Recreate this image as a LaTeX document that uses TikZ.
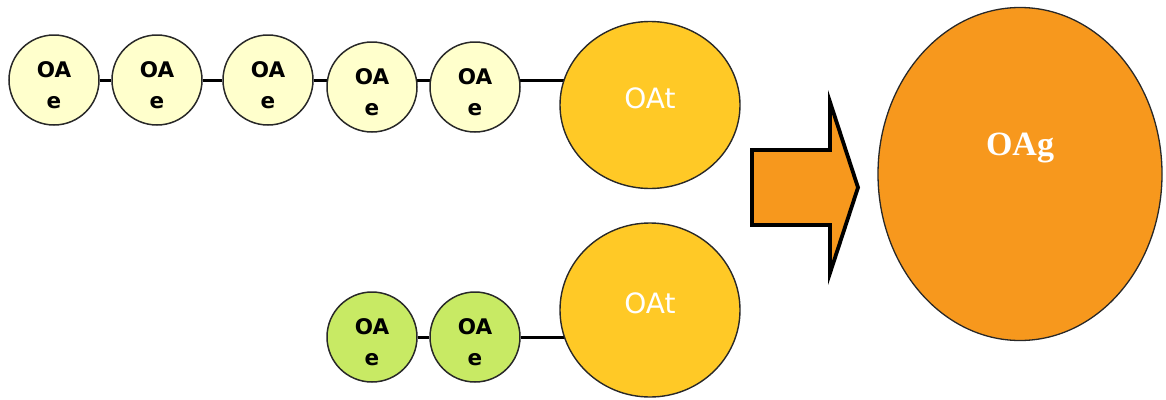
\documentclass[tikz,border=0pt]{standalone}
\usepackage{fontspec}
\setmainfont{DejaVu Sans}
\newfontfamily\oagfont{Liberation Serif}
\usetikzlibrary{backgrounds,shapes.geometric}
\definecolor{paleyel}{RGB}{255,255,204}
\definecolor{limegr}{RGB}{200,234,100}
\definecolor{goldyel}{RGB}{255,201,38}
\definecolor{orangefill}{RGB}{247,152,29}
\definecolor{edgegray}{RGB}{40,40,40}
\tikzset{
  smallc/.style={circle, draw=edgegray, line width=1.5pt, minimum size=90pt, inner sep=0pt,
    font=\fontsize{21.5}{31}\selectfont\bfseries},
  oae/.style={smallc, fill=paleyel},
  oaeg/.style={smallc, fill=limegr},
  oatbox/.style={ellipse, draw=edgegray, line width=1.4pt, fill=goldyel, inner sep=0pt,
    minimum width=180pt, text=white, font=\fontsize{28}{30}\selectfont},
  link/.style={line width=3pt, black},
}
\newcommand{\oatxt}{\raisebox{-6.3pt}[\height][\depth]{\begin{tabular}{@{}c@{}}OA\\e\end{tabular}}}
\begin{document}
\begin{tikzpicture}[x=1pt,y=-1pt]
\useasboundingbox (0,0) rectangle (1166,399);
% top chain
\node[oae] (c1) at (54,80) {\oatxt};
\node[oae] (c2) at (157,80) {\oatxt};
\node[oae] (c3) at (268,80) {\oatxt};
\node[oae] (c4) at (372,87) {\oatxt};
\node[oae] (c5) at (475,87) {\oatxt};
\node[oatbox, minimum height=167pt] (oat1) at (650,105)
  {\raisebox{7pt}[\height][\depth]{OAt}};
% bottom chain
\node[oaeg] (g1) at (372,337) {\oatxt};
\node[oaeg] (g2) at (475,337) {\oatxt};
\node[oatbox, minimum height=174pt] (oat2) at (650,310)
  {\raisebox{7pt}[\height][\depth]{OAt}};
% result
\node[ellipse, draw=edgegray, line width=1.3pt, fill=orangefill, minimum width=284pt, minimum height=333pt,
  inner sep=0pt, text=white, font=\oagfont\bfseries\fontsize{34}{38}\selectfont] (oag) at (1020,174)
  {\raisebox{26.5pt}[\height][\depth]{OAg}};
% arrow
\draw[line width=3.8pt, fill=orangefill, line join=miter]
  (752,150) -- (830,150) -- (830,102) -- (858,187.5) -- (830,273) -- (830,225) -- (752,225) -- cycle;
% connectors
\begin{scope}[on background layer]
\draw[link] (c1) -- (c2) -- (c3) -- (c4 |- c3) -- (c5 |- c3) -- (oat1 |- c3);
\draw[link] (g1) -- (g2) -- (oat2 |- g2);
\end{scope}
\end{tikzpicture}
\end{document}
